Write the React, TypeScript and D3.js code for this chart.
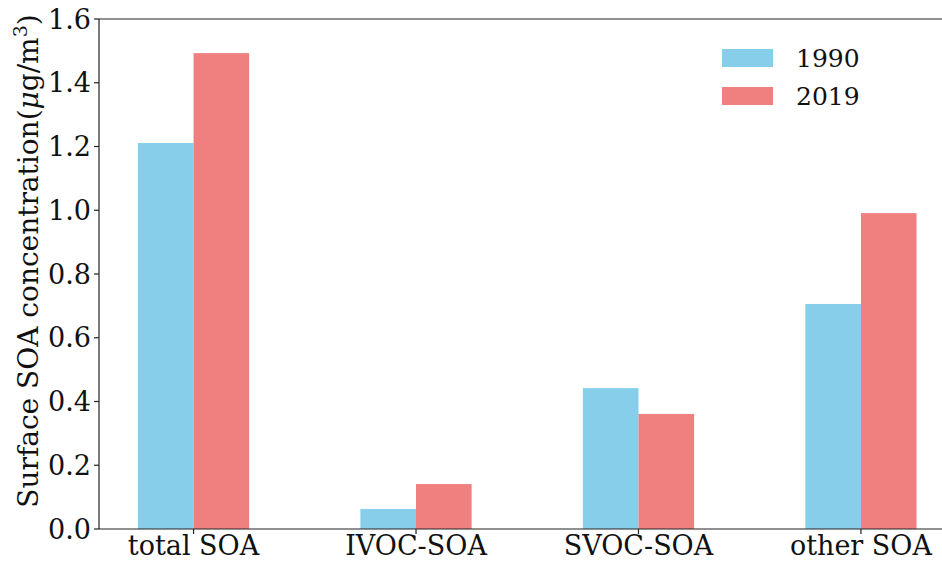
import React from "react";
import * as d3 from "d3";

const categories = ["total SOA", "IVOC-SOA", "SVOC-SOA", "other SOA"];
const series1990 = [1.211, 0.063, 0.442, 0.706];
const series2019 = [1.493, 0.141, 0.361, 0.991];
const seriesNames = ["1990", "2019"];
const seriesColors = ["#87CEEB", "#F08080"];
const yTicks = [0, 0.2, 0.4, 0.6, 0.8, 1.0, 1.2, 1.4, 1.6];

const W = 942;
const H = 561;
const left = 99;
const top = 19;
const bottom = 529;
const font = "DejaVu Serif, serif";

export default function App() {
  const x = d3.scaleLinear().domain([-0.425, 3.425]).range([left, 955.5]);
  const y = d3.scaleLinear().domain([0, 1.6]).range([bottom, top]);
  const bw = 0.25;
  const all = [series1990, series2019];
  return (
    <svg width={W} height={H} style={{ position: "absolute", left: 0, top: 0, background: "#fff" }}>
      {all.map((s, si) =>
        s.map((v, i) => {
          const x0 = x(i + (si === 0 ? -bw : 0));
          const x1 = x(i + (si === 0 ? 0 : bw));
          return (
            <rect key={`${si}-${i}`} x={x0} y={y(v)} width={x1 - x0} height={y(0) - y(v)} fill={seriesColors[si]} />
          );
        })
      )}
      {/* spines */}
      <line x1={left} x2={left} y1={top} y2={bottom} stroke="#222" strokeWidth={1.2} />
      <line x1={left} x2={W + 20} y1={bottom} y2={bottom} stroke="#222" strokeWidth={1.2} />
      <line x1={left} x2={W + 20} y1={top} y2={top} stroke="#222" strokeWidth={1.2} />
      {yTicks.map((t) => (
        <g key={t}>
          <line x1={left - 5} x2={left} y1={y(t)} y2={y(t)} stroke="#222" strokeWidth={1.2} />
          <text x={left - 8} y={y(t)} dy="0.36em" textAnchor="end" fontFamily={font} fontSize={27} fill="#111">
            {t.toFixed(1)}
          </text>
        </g>
      ))}
      {categories.map((c, i) => (
        <g key={c}>
          <line x1={x(i)} x2={x(i)} y1={bottom} y2={bottom + 5} stroke="#222" strokeWidth={1.2} />
          <text x={x(i)} y={bottom + 26} textAnchor="middle" fontFamily={font} fontSize={27} fill="#111">
            {c}
          </text>
        </g>
      ))}
      <text
        transform={`translate(38,261) rotate(-90)`}
        textAnchor="middle"
        fontFamily={font}
        fontSize={28}
        fill="#111"
      >
        Surface SOA concentration(<tspan fontStyle="italic">μ</tspan>g/m
        <tspan dy={-11} fontSize={19}>3</tspan>
        <tspan dy={11}>)</tspan>
      </text>
      {seriesNames.map((n, i) => (
        <g key={n}>
          <rect x={722} y={49 + i * 38} width={51} height={18} fill={seriesColors[i]} />
          <text x={796} y={58 + i * 38} dy="0.36em" fontFamily={font} fontSize={25} fill="#111">
            {n}
          </text>
        </g>
      ))}
    </svg>
  );
}
